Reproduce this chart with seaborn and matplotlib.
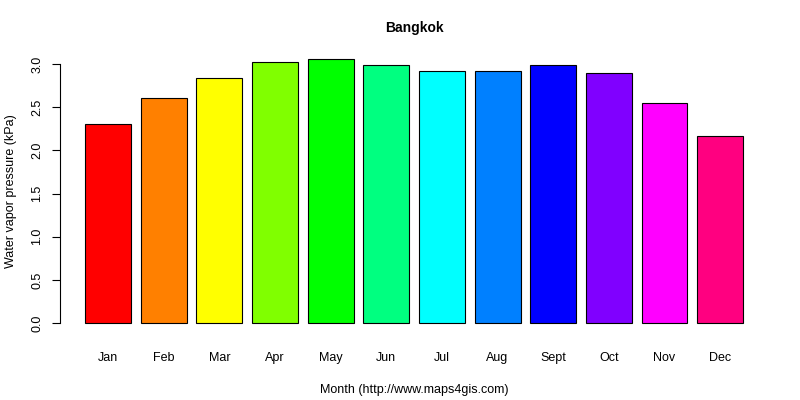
import matplotlib
matplotlib.use("Agg")
import matplotlib.pyplot as plt
import seaborn as sns
import pandas as pd

months = ["Jan","Feb","Mar","Apr","May","Jun","Jul","Aug","Sept","Oct","Nov","Dec"]
values = [2.31, 2.61, 2.84, 3.02, 3.06, 2.99, 2.92, 2.92, 2.99, 2.90, 2.55, 2.17]
colors = ["#FF0000","#FF8000","#FFFF00","#80FF00","#00FF00","#00FF80",
          "#00FFFF","#0080FF","#0000FF","#8000FF","#FF00FF","#FF0080"]

sns.set_style("white")
plt.rcParams['font.family'] = ['Liberation Sans', 'DejaVu Sans']
plt.rcParams['text.color'] = 'black'
plt.rcParams['axes.labelcolor'] = 'black'
plt.rcParams['xtick.color'] = 'black'
plt.rcParams['ytick.color'] = 'black'

df = pd.DataFrame({"Month": months, "v": values})
fig = plt.figure(figsize=(8, 4), dpi=100)
ax = fig.add_axes([0.075, 0.166, 0.885, 0.7125])
sns.barplot(data=df, x="Month", y="v", hue="Month", palette=colors, legend=False,
            width=0.826, edgecolor="black", linewidth=0.8, saturation=1, ax=ax)
ax.set_xlim(-0.863, 11.86)
ax.set_ylim(-0.122, 3.18)
for s in ["top", "right", "bottom"]:
    ax.spines[s].set_visible(False)
ax.spines["left"].set_bounds(0, 3)
ax.spines["left"].set_color("black")
ax.spines["left"].set_linewidth(0.8)
ax.set_yticks([0, 0.5, 1, 1.5, 2, 2.5, 3])
ax.set_yticklabels(["0.0","0.5","1.0","1.5","2.0","2.5","3.0"], rotation=90, va="center", fontsize=9)
ax.tick_params(axis="y", left=True, length=6, width=0.8, color="black", pad=6)
ax.tick_params(axis="x", bottom=False, labelsize=9, pad=10)
ax.set_xlabel("Month (http://www.maps4gis.com)", fontsize=9, labelpad=14)
ax.set_ylabel("Water vapor pressure (kPa)", fontsize=9, labelpad=10)
ax.set_title("Bangkok", fontsize=10, fontweight="bold", pad=12)
fig.savefig("out.png", dpi=100)
